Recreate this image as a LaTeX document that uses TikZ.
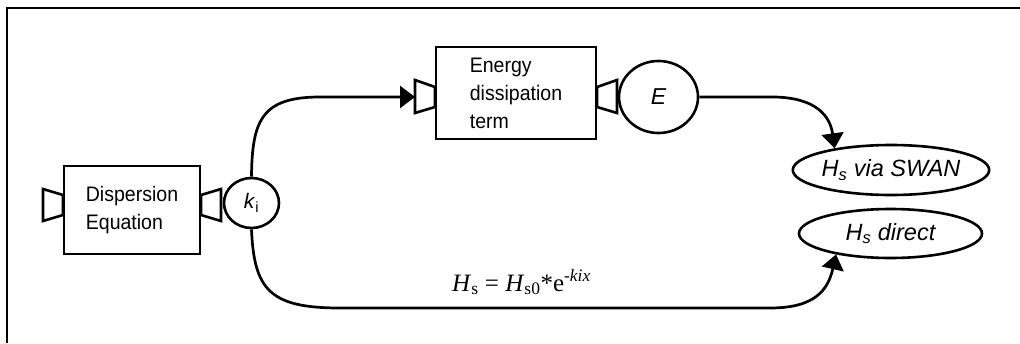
\documentclass[tikz,border=0pt]{standalone}
\usepackage{fontspec}
\setmainfont{Liberation Sans}
\newfontfamily\boxfont{Liberation Sans}[FakeStretch=0.93]
\newfontfamily\seriffont{Liberation Serif}
\usetikzlibrary{shapes.geometric,arrows.meta}
\begin{document}
\begin{tikzpicture}[x=1pt,y=-1pt,
  box/.style={draw, rectangle, line width=2.8pt, inner sep=0pt, align=left,
    font=\boxfont\fontsize{21}{28}\selectfont},
  oval/.style={draw, ellipse, line width=2.6pt, inner sep=0pt},
  port/.style={draw, line width=2.6pt, line join=miter},
  conn/.style={line width=2.7pt, -{Triangle[length=15pt,width=22pt]}},
  lbl/.style={font=\fontsize{23.5}{26}\selectfont\itshape},
]
\useasboundingbox (0,0) rectangle (1020,343);
\draw[line width=2.2pt] (7,343) -- (7,8) -- (1020,8);

% boxes
\node[box, minimum width=136pt, minimum height=88pt] (disp) at (132,210) {Dispersion\\Equation};
\node[box, minimum width=160pt, minimum height=92pt] (en) at (516,93) {Energy\\dissipation\\term};

% ports
\draw[port] (63,195) -- (43,189) -- (43,221) -- (63,215) -- cycle;
\draw[port] (201,195) -- (221,189) -- (221,221) -- (201,215) -- cycle;
\draw[port] (435,87) -- (415,80) -- (415,113) -- (435,107) -- cycle;
\draw[port] (597,87) -- (617,80) -- (617,113) -- (597,107) -- cycle;
\coordinate (p2) at (415,97);

% ovals
\node[oval, minimum width=55pt, minimum height=50pt, font=\fontsize{21}{24}\selectfont] (ki) at (251.5,203) {\textit{k}\textsubscript{i}};
\node[oval, minimum width=79pt, minimum height=72pt, font=\fontsize{23}{26}\selectfont\itshape] (E) at (658.5,97) {E};
\node[oval, lbl, minimum width=184pt, minimum height=50pt] (swan) at (891,170) {H\textsubscript{s} via SWAN};
\node[oval, lbl, minimum width=183pt, minimum height=49pt] (direct) at (890.5,233.5) {H\textsubscript{s} direct};

% connectors
\draw[conn] (ki.north) .. controls (252,120) and (262,97) .. (320,97) -- (p2);
\draw[conn] (E.east) -- (775,97) .. controls (815,98) and (830,115) .. (swan.159);
\draw[conn] (ki.south) .. controls (254,290) and (270,308) .. (340,308) -- (770,308) .. controls (815,308) and (828,290) .. (direct.201);

% formula
\node[anchor=base west, inner sep=0pt, font=\seriffont\fontsize{25}{30}\selectfont] (f) at (452,291)
  {\textit{H}\textsubscript{s} = \textit{H}\textsubscript{s0}*e\textsuperscript{-\textit{kix}}};
\end{tikzpicture}
\end{document}
